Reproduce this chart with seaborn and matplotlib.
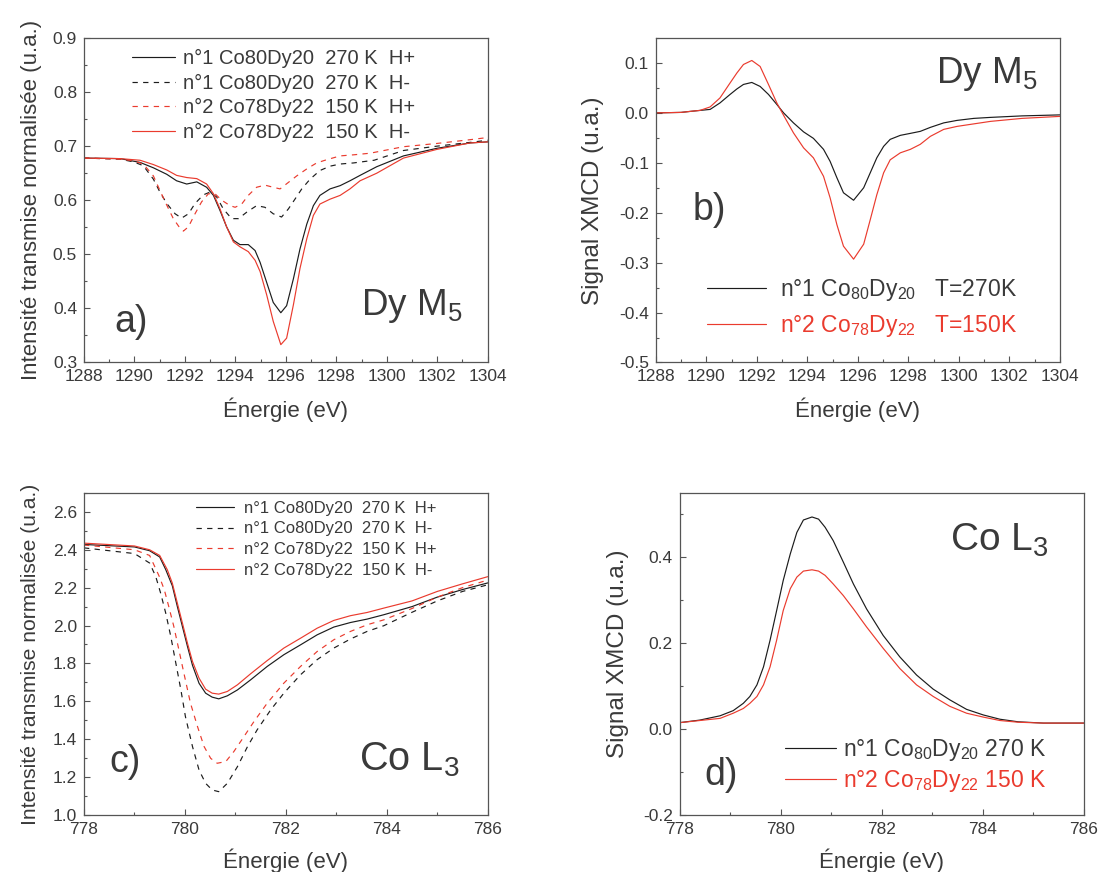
import matplotlib
matplotlib.use("Agg")
import matplotlib.pyplot as plt
from matplotlib.ticker import MultipleLocator
import seaborn as sns
import pandas as pd

# ---- a) Dy M5, transmitted intensity ----
a_e_solid = [1288, 1289.43, 1290.22, 1290.75, 1291.28, 1291.67, 1292.07, 1292.47, 1292.86, 1293.13,
             1293.39, 1293.65, 1293.92, 1294.18, 1294.51, 1294.78, 1294.98, 1295.24, 1295.50, 1295.80,
             1296.03, 1296.30, 1296.56, 1296.83, 1297.09, 1297.35, 1297.75, 1298.15, 1298.54, 1298.94,
             1299.6, 1300.66, 1301.98, 1303.3, 1304]
a_v_blk_hp = [0.678, 0.677, 0.670, 0.660, 0.648, 0.636, 0.630, 0.634, 0.624, 0.609,
              0.581, 0.551, 0.526, 0.518, 0.518, 0.507, 0.485, 0.448, 0.411, 0.392,
              0.405, 0.455, 0.510, 0.556, 0.590, 0.609, 0.621, 0.627, 0.636, 0.646,
              0.662, 0.682, 0.696, 0.706, 0.708]
a_v_red_hm = [0.678, 0.677, 0.674, 0.666, 0.656, 0.646, 0.642, 0.640, 0.630, 0.612,
              0.584, 0.551, 0.523, 0.514, 0.505, 0.489, 0.468, 0.425, 0.376, 0.333,
              0.345, 0.407, 0.474, 0.529, 0.572, 0.593, 0.602, 0.609, 0.621, 0.636,
              0.650, 0.678, 0.694, 0.706, 0.708]
a_e_blk_hm = [1288, 1289.43, 1289.96, 1290.35, 1290.75, 1291.01, 1291.28, 1291.61, 1291.87, 1292.14,
              1292.40, 1292.73, 1292.99, 1293.26, 1293.52, 1293.85, 1294.12, 1294.45, 1294.84, 1295.17,
              1295.50, 1295.83, 1296.10, 1296.36, 1296.63, 1296.96, 1297.35, 1297.75, 1298.15, 1298.68,
              1299.5, 1300.66, 1301.98, 1303.3, 1304]
a_v_blk_hm = [0.678, 0.676, 0.671, 0.664, 0.639, 0.615, 0.594, 0.575, 0.567, 0.575,
              0.594, 0.610, 0.615, 0.606, 0.584, 0.566, 0.566, 0.578, 0.590, 0.587,
              0.575, 0.569, 0.584, 0.602, 0.621, 0.639, 0.655, 0.663, 0.667, 0.669,
              0.674, 0.692, 0.700, 0.707, 0.711]
a_e_red_hp = [1288, 1289.43, 1289.96, 1290.35, 1290.75, 1291.01, 1291.28, 1291.54, 1291.81, 1291.94,
              1292.14, 1292.40, 1292.66, 1292.93, 1293.19, 1293.46, 1293.79, 1293.99, 1294.25, 1294.51,
              1294.84, 1295.17, 1295.50, 1295.77, 1296.10, 1296.43, 1296.83, 1297.22, 1297.62, 1298.15,
              1298.68, 1299.34, 1300.66, 1301.98, 1303.3, 1304]
a_v_red_hp = [0.678, 0.676, 0.673, 0.667, 0.645, 0.618, 0.591, 0.566, 0.548, 0.543,
              0.551, 0.575, 0.597, 0.612, 0.612, 0.600, 0.590, 0.587, 0.593, 0.609,
              0.624, 0.628, 0.624, 0.621, 0.633, 0.645, 0.658, 0.669, 0.675, 0.682,
              0.684, 0.687, 0.699, 0.705, 0.712, 0.716]

# ---- b) Dy M5, XMCD ----
b_energie = [1288, 1289, 1289.36, 1289.75, 1290.15, 1290.54, 1290.94, 1291.21, 1291.47, 1291.80,
             1292.13, 1292.46, 1292.79, 1293.06, 1293.45, 1293.85, 1294.24, 1294.64, 1294.90, 1295.17,
             1295.43, 1295.83, 1296.23, 1296.49, 1296.75, 1297.02, 1297.28, 1297.68, 1298.08, 1298.47,
             1298.87, 1299.40, 1299.93, 1300.59, 1301.25, 1302.5, 1304]
b_xmcd_n1 = [0.0, 0.001, 0.003, 0.005, 0.007, 0.020, 0.037, 0.048, 0.057, 0.061,
             0.053, 0.037, 0.017, 0.0, -0.020, -0.038, -0.051, -0.073, -0.097, -0.130,
             -0.160, -0.175, -0.150, -0.120, -0.090, -0.067, -0.053, -0.045, -0.041, -0.037,
             -0.029, -0.020, -0.015, -0.011, -0.009, -0.006, -0.004]
b_xmcd_n2 = [0.0, 0.001, 0.003, 0.005, 0.012, 0.030, 0.060, 0.080, 0.097, 0.105,
             0.093, 0.057, 0.020, -0.005, -0.040, -0.070, -0.090, -0.127, -0.170, -0.224,
             -0.267, -0.293, -0.263, -0.214, -0.164, -0.120, -0.094, -0.080, -0.073, -0.063,
             -0.047, -0.033, -0.027, -0.022, -0.017, -0.011, -0.007]

# ---- c) Co L3, transmitted intensity ----
c_e_blk_hp = [778, 779, 779.3, 779.5, 779.62, 779.75, 779.85, 779.95, 780.05, 780.15, 780.28,
              780.41, 780.54, 780.67, 780.84, 781.04, 781.30, 781.63, 781.96, 782.29, 782.62,
              782.95, 783.28, 783.61, 783.94, 784.5, 785, 785.5, 786]
c_blk_hp = [2.428, 2.415, 2.395, 2.362, 2.295, 2.21, 2.10, 1.995, 1.89, 1.79, 1.695,
            1.643, 1.622, 1.613, 1.629, 1.66, 1.713, 1.784, 1.846, 1.898, 1.951,
            1.992, 2.016, 2.034, 2.057, 2.10, 2.15, 2.19, 2.225]
c_e_red_hm = [778, 779, 779.3, 779.5, 779.65, 779.75, 779.85, 779.95, 780.05, 780.15, 780.28,
              780.41, 780.54, 780.67, 780.84, 781.04, 781.30, 781.63, 781.96, 782.29, 782.62,
              782.95, 783.28, 783.61, 783.94, 784.5, 785, 785.5, 786]
c_red_hm = [2.435, 2.42, 2.40, 2.37, 2.295, 2.224, 2.118, 2.013, 1.907, 1.81, 1.722,
            1.664, 1.643, 1.638, 1.652, 1.687, 1.745, 1.815, 1.881, 1.933, 1.986,
            2.027, 2.052, 2.069, 2.092, 2.13, 2.18, 2.22, 2.258]
c_e_red_hp = [778, 779, 779.3, 779.49, 779.59, 779.68, 779.78, 779.88, 779.98, 780.11, 780.25,
              780.38, 780.51, 780.64, 780.81, 780.97, 781.17, 781.37, 781.63, 781.96, 782.29,
              782.62, 782.95, 783.28, 783.61, 783.94, 784.5, 785, 785.5, 786]
c_red_hp = [2.425, 2.40, 2.37, 2.26, 2.19, 2.10, 1.995, 1.872, 1.748, 1.59, 1.466,
            1.361, 1.299, 1.273, 1.282, 1.335, 1.414, 1.494, 1.59, 1.696, 1.784,
            1.863, 1.925, 1.969, 2.004, 2.03, 2.09, 2.15, 2.20, 2.24]
c_e_blk_hm = [778, 779, 779.3, 779.42, 779.52, 779.62, 779.72, 779.82, 779.92, 780.01, 780.15,
              780.28, 780.41, 780.54, 780.67, 780.84, 781.04, 781.24, 781.43, 781.70, 781.96,
              782.29, 782.62, 782.95, 783.28, 783.61, 783.94, 784.5, 785, 785.5, 786]
c_blk_hm = [2.41, 2.38, 2.33, 2.26, 2.17, 2.065, 1.942, 1.801, 1.66, 1.519, 1.361,
            1.237, 1.167, 1.132, 1.123, 1.167, 1.255, 1.361, 1.449, 1.555, 1.643,
            1.74, 1.82, 1.881, 1.929, 1.969, 1.999, 2.07, 2.13, 2.18, 2.215]

# ---- d) Co L3, XMCD ----
d_energie = [778, 778.40, 778.80, 779.06, 779.26, 779.39, 779.53, 779.66, 779.79, 779.92, 780.05,
             780.19, 780.32, 780.45, 780.62, 780.75, 780.88, 781.04, 781.24, 781.44, 781.70,
             782.03, 782.36, 782.69, 783.02, 783.35, 783.68, 784.01, 784.34, 784.7, 785.2, 786]
d_xmcd_n1 = [0.015, 0.021, 0.031, 0.043, 0.060, 0.076, 0.103, 0.145, 0.207, 0.276, 0.346,
             0.408, 0.458, 0.487, 0.494, 0.489, 0.470, 0.439, 0.389, 0.338, 0.280,
             0.218, 0.168, 0.126, 0.093, 0.068, 0.046, 0.033, 0.023, 0.017, 0.014, 0.014]
d_xmcd_n2 = [0.015, 0.020, 0.025, 0.037, 0.048, 0.060, 0.076, 0.103, 0.145, 0.207, 0.276,
             0.327, 0.354, 0.368, 0.371, 0.368, 0.358, 0.338, 0.311, 0.280, 0.238,
             0.188, 0.141, 0.103, 0.076, 0.053, 0.037, 0.028, 0.020, 0.016, 0.014, 0.014]

NOIR = "#1c1c1c"
ROUGE = "#ea3b2e"
TEXTE = "#3a3a3a"
DASH = (0, (4.5, 4.5))

sns.set_style("ticks")
plt.rcParams["font.family"] = ["Liberation Sans", "DejaVu Sans"]
plt.rcParams["mathtext.default"] = "regular"
plt.rcParams["axes.unicode_minus"] = False
plt.rcParams["text.color"] = TEXTE
plt.rcParams["axes.labelcolor"] = TEXTE

fig = plt.figure(figsize=(10.98, 8.72), dpi=100)
ax_a = fig.add_axes([0.0765, 0.5843, 0.3677, 0.3721])
ax_b = fig.add_axes([0.5973, 0.5843, 0.3680, 0.3721])
ax_c = fig.add_axes([0.0765, 0.0654, 0.3677, 0.3693])
ax_d = fig.add_axes([0.6190, 0.0654, 0.3680, 0.3693])


def trace(ax, x, y, color, ls, label):
    df = pd.DataFrame({"energie": x, "valeur": y})
    sns.lineplot(data=df, x="energie", y="valeur", ax=ax, color=color,
                 linestyle=ls, linewidth=0.85, label=label)


def habiller(ax, xlim, ylim, xmaj, ymaj, ymin, ylab, xlab_y, ylab_x, fs_lab):
    ax.set_xlim(*xlim)
    ax.set_ylim(*ylim)
    ax.xaxis.set_major_locator(MultipleLocator(xmaj))
    ax.xaxis.set_minor_locator(MultipleLocator(1))
    ax.yaxis.set_major_locator(MultipleLocator(ymaj))
    ax.yaxis.set_minor_locator(MultipleLocator(ymin))
    ax.tick_params(which="both", direction="in", colors="#555555", labelcolor=TEXTE,
                   labelsize=12.5, pad=5, top=False, right=False)
    ax.tick_params(which="major", length=4, width=0.8)
    ax.tick_params(which="minor", length=2.5, width=0.8)
    for s in ax.spines.values():
        s.set_color("#555555")
        s.set_linewidth(0.9)
    ax.set_xlabel("Énergie (eV)", fontsize=16)
    ax.set_ylabel(ylab, fontsize=fs_lab)
    ax.xaxis.set_label_coords(0.5, xlab_y)
    ax.yaxis.set_label_coords(ylab_x, 0.5)


# a)
trace(ax_a, a_e_solid, a_v_blk_hp, NOIR, "-", "n°1 Co80Dy20  270 K  H+")
trace(ax_a, a_e_blk_hm, a_v_blk_hm, NOIR, DASH, "n°1 Co80Dy20  270 K  H-")
trace(ax_a, a_e_red_hp, a_v_red_hp, ROUGE, DASH, "n°2 Co78Dy22  150 K  H+")
trace(ax_a, a_e_solid, a_v_red_hm, ROUGE, "-", "n°2 Co78Dy22  150 K  H-")
habiller(ax_a, (1288, 1304), (0.3, 0.9), 2, 0.1, 0.05,
         "Intensité transmise normalisée (u.a.)", -0.108, -0.105, 16)
ax_a.legend(loc="upper left", bbox_to_anchor=(0.12, 0.966), frameon=False, borderpad=0,
            borderaxespad=0, handlelength=2.12, handletextpad=0.37, labelspacing=0.27,
            fontsize=14.5, labelcolor=TEXTE)
ax_a.text(0.685, 0.145, "Dy M$_5$", transform=ax_a.transAxes, fontsize=26.5, color=TEXTE)
ax_a.text(0.0755, 0.093, "a)", transform=ax_a.transAxes, fontsize=27, color=TEXTE)

# b)
trace(ax_b, b_energie, b_xmcd_n1, NOIR, "-", "n°1 Co$_{80}$Dy$_{20}$   T=270K")
trace(ax_b, b_energie, b_xmcd_n2, ROUGE, "-", "n°2 Co$_{78}$Dy$_{22}$   T=150K")
habiller(ax_b, (1288, 1304), (-0.5, 0.15), 2, 0.1, 0.05,
         "Signal XMCD (u.a.)", -0.108, -0.128, 17.5)
ax_b.legend(loc="upper left", bbox_to_anchor=(0.126, 0.262), frameon=False, borderpad=0,
            borderaxespad=0, handlelength=2.6, handletextpad=0.61, labelspacing=0.42,
            fontsize=16.5, labelcolor=[TEXTE, ROUGE])
ax_b.text(0.693, 0.861, "Dy M$_5$", transform=ax_b.transAxes, fontsize=26.5, color=TEXTE)
ax_b.text(0.091, 0.438, "b)", transform=ax_b.transAxes, fontsize=27, color=TEXTE)

# c)
trace(ax_c, c_e_blk_hp, c_blk_hp, NOIR, "-", "n°1 Co80Dy20  270 K  H+")
trace(ax_c, c_e_blk_hm, c_blk_hm, NOIR, DASH, "n°1 Co80Dy20  270 K  H-")
trace(ax_c, c_e_red_hp, c_red_hp, ROUGE, DASH, "n°2 Co78Dy22  150 K  H+")
trace(ax_c, c_e_red_hm, c_red_hm, ROUGE, "-", "n°2 Co78Dy22  150 K  H-")
habiller(ax_c, (778, 786), (1.0, 2.7), 2, 0.2, 0.1,
         "Intensité transmise normalisée (u.a.)", -0.105, -0.11, 15.2)
ax_c.legend(loc="upper left", bbox_to_anchor=(0.278, 0.976), frameon=False, borderpad=0,
            borderaxespad=0, handlelength=2.25, handletextpad=0.59, labelspacing=0.34,
            fontsize=12, labelcolor=TEXTE)
ax_c.text(0.682, 0.139, "Co L$_3$", transform=ax_c.transAxes, fontsize=28.5, color=TEXTE)
ax_c.text(0.0625, 0.133, "c)", transform=ax_c.transAxes, fontsize=27, color=TEXTE)

# d)
trace(ax_d, d_energie, d_xmcd_n1, NOIR, "-", "n°1 Co$_{80}$Dy$_{20}$ 270 K")
trace(ax_d, d_energie, d_xmcd_n2, ROUGE, "-", "n°2 Co$_{78}$Dy$_{22}$ 150 K")
habiller(ax_d, (778, 786), (-0.2, 0.55), 2, 0.2, 0.1,
         "Signal XMCD (u.a.)", -0.105, -0.125, 17.5)
ax_d.legend(loc="upper left", bbox_to_anchor=(0.26, 0.242), frameon=False, borderpad=0,
            borderaxespad=0, handlelength=2.25, handletextpad=0.28, labelspacing=0.22,
            fontsize=16.5, labelcolor=[TEXTE, ROUGE])
ax_d.text(0.67, 0.82, "Co L$_3$", transform=ax_d.transAxes, fontsize=28, color=TEXTE)
ax_d.text(0.06, 0.093, "d)", transform=ax_d.transAxes, fontsize=27, color=TEXTE)

fig.savefig("out.png", dpi=100)
